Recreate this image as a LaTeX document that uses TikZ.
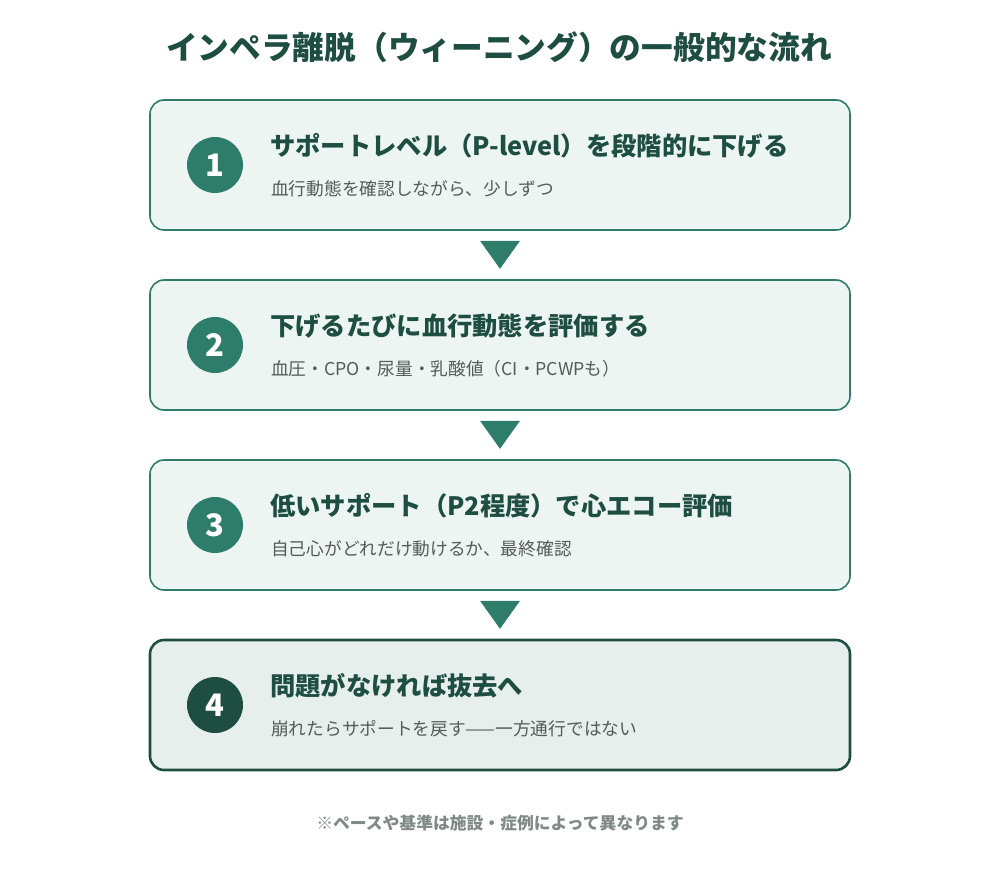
\documentclass[tikz,border=0pt]{standalone}
\usepackage{fontspec}
\usetikzlibrary{calc}
\setmainfont{Noto Sans CJK JP}
\definecolor{teal}{HTML}{2E7D6B}
\definecolor{dark}{HTML}{1E4D42}
\definecolor{boxfill}{HTML}{EDF5F2}
\definecolor{boxfillb}{HTML}{E6EFEC}
\definecolor{subgray}{HTML}{555B59}
\definecolor{footgray}{HTML}{7F8A87}
\tikzset{
  stepbox/.style={draw=teal, line width=1.6pt, fill=boxfill, rounded corners=14pt, minimum width=700pt, minimum height=130pt, inner sep=0pt},
  lastbox/.style={draw=dark, line width=2.6pt, fill=boxfillb, rounded corners=14pt, minimum width=700pt, minimum height=130pt, inner sep=0pt},
  numcirc/.style={circle, fill=teal, minimum size=56pt, inner sep=0pt, text=white, font=\fontsize{31}{34}\selectfont\bfseries},
  numcircb/.style={numcirc, fill=dark},
  head/.style={anchor=west, inner sep=0pt, text=dark, font=\fontsize{25.3}{29}\selectfont\bfseries},
  sub/.style={anchor=west, inner sep=0pt, text=subgray, font=\fontsize{17.7}{21}\selectfont},
  tri/.style={fill=teal, draw=none},
}
\begin{document}
\begin{tikzpicture}[x=1pt,y=-1pt]
\useasboundingbox (0,0) rectangle (1000,880);
\node[inner sep=0pt, text=dark, font=\fontsize{31.7}{36}\selectfont\bfseries] (title) at (499,47) {インペラ離脱（ウィーニング）の一般的な流れ};

\node[stepbox] (b1) at (500,165) {};
\node[stepbox] (b2) at (500,345) {};
\node[stepbox] (b3) at (500,525) {};
\node[lastbox] (b4) at (500,705) {};

\node[numcirc] (c1) at (215,165) {1};
\node[numcirc] (c2) at (215,345) {2};
\node[numcirc] (c3) at (215,525) {3};
\node[numcircb] (c4) at (215,705) {4};

\node[head] (h1) at (270,146) {サポートレベル（P-level）を段階的に下げる};
\node[sub] (s1) at (271,189) {血行動態を確認しながら、少しずつ};
\node[head] (h2) at (270,326) {下げるたびに血行動態を評価する};
\node[sub] (s2) at (271,369) {血圧・CPO・尿量・乳酸値（CI・PCWPも）};
\node[head] (h3) at (270,506) {低いサポート（P2程度）で心エコー評価};
\node[sub] (s3) at (271,549) {自己心がどれだけ動けるか、最終確認};
\node[head] (h4) at (270,686) {問題がなければ抜去へ};
\node[sub] (s4) at (271,729) {崩れたらサポートを戻す——一方通行ではない};

\foreach \a/\b in {b1/b2,b2/b3,b3/b4}{
  \fill[tri] ($(\a.south)+(-20,10)$) -- ($(\a.south)+(20,10)$) -- ($(\a.south)+(0,38)$) -- cycle;
}

\node[inner sep=0pt, text=footgray, font=\fontsize{16.8}{20}\selectfont\bfseries] (foot) at (500,823) {※ペースや基準は施設・症例によって異なります};
\end{tikzpicture}
\end{document}
